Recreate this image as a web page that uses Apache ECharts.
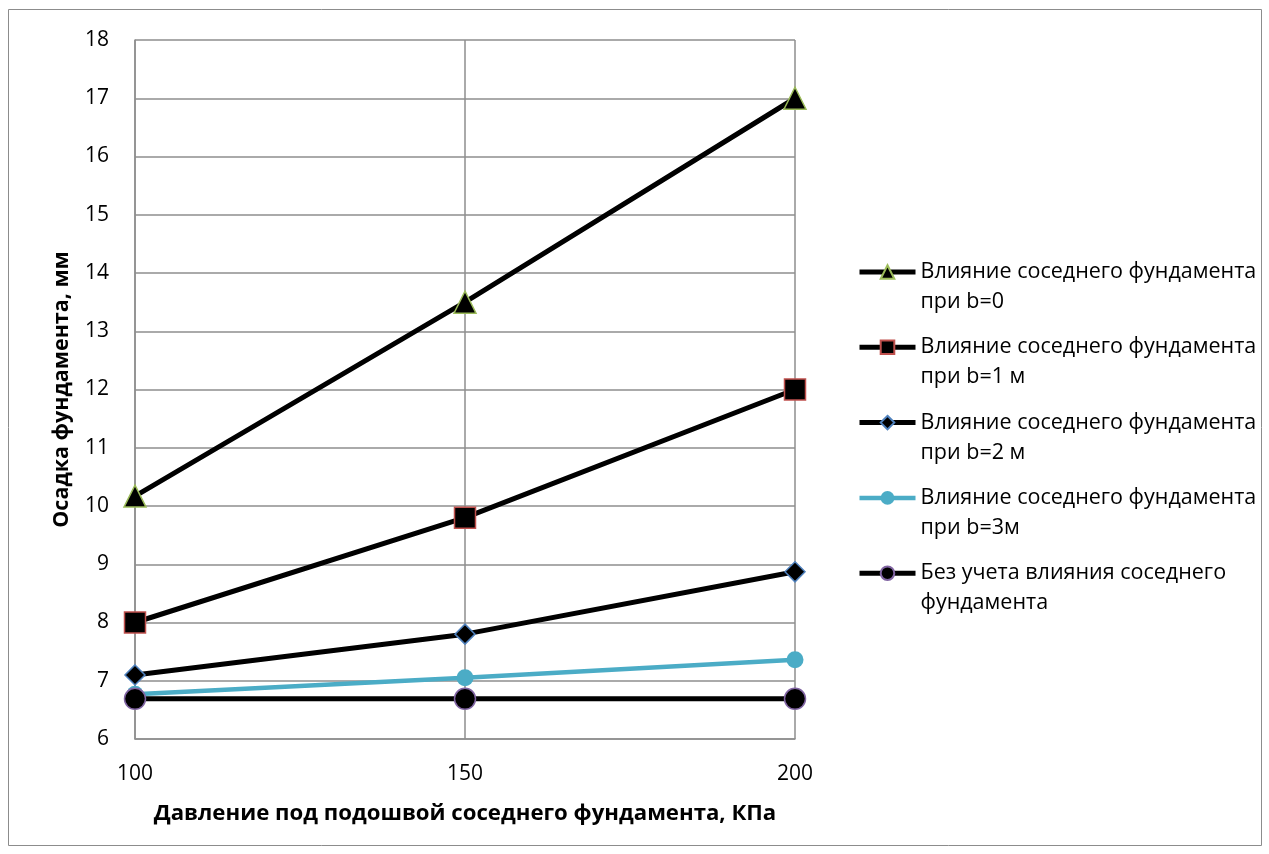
<!DOCTYPE html>
<html>
<head>
<meta charset="utf-8">
<style>
  html, body { margin: 0; padding: 0; background: #fff; }
  #chart { width: 1269px; height: 854px; }
</style>
<script src="https://cdn.jsdelivr.net/npm/echarts@6/dist/echarts.min.js"></script>
</head>
<body>
<div id="chart"></div>
<script>
// Pressure under the neighbouring footing, kPa
const pressures = [100, 150, 200];
// Settlement of the footing, mm
const settleB0 = [10.17, 13.5, 17.0];
const settleB1 = [8.0, 9.8, 12.0];
const settleB2 = [7.1, 7.8, 8.87];
const settleB3 = [6.77, 7.05, 7.36];
const settleNone = [6.69, 6.69, 6.69];

const seriesNames = [
  'Влияние соседнего фундамента\nпри b=0',
  'Влияние соседнего фундамента\nпри b=1 м',
  'Влияние соседнего фундамента\nпри b=2 м',
  'Влияние соседнего фундамента\nпри b=3м',
  'Без учета влияния соседнего\nфундамента'
];
const xTitle = 'Давление под подошвой соседнего фундамента, КПа';
const yTitle = 'Осадка фундамента, мм';

const FONT = '"Open Sans", "Noto Sans", sans-serif';
const GRID_GREY = '#8e8e8e';

function pairs(vals) {
  return pressures.map((p, i) => [p, vals[i]]);
}

function lineSeries(name, vals, opts) {
  return {
    name: name,
    type: 'line',
    data: pairs(vals),
    symbol: opts.symbol,
    symbolSize: opts.size,
    lineStyle: { color: opts.lineColor, width: opts.lineWidth },
    itemStyle: { color: opts.fill, borderColor: opts.border, borderWidth: opts.borderWidth },
    emphasis: { disabled: true },
    animation: false,
    z: opts.z
  };
}

const styles = [
  { symbol: 'triangle', size: 22, lineColor: '#000', lineWidth: 5, fill: '#000', border: '#9bbb59', borderWidth: 1.5, z: 2 },
  { symbol: 'rect', size: 21, lineColor: '#000', lineWidth: 5, fill: '#000', border: '#c0504d', borderWidth: 1.5, z: 3 },
  { symbol: 'diamond', size: 20, lineColor: '#000', lineWidth: 5, fill: '#000', border: '#4f81bd', borderWidth: 1.5, z: 4 },
  { symbol: 'circle', size: 17, lineColor: '#4bacc6', lineWidth: 4.5, fill: '#4bacc6', border: '#4bacc6', borderWidth: 0, z: 5 },
  { symbol: 'circle', size: 21, lineColor: '#000', lineWidth: 5, fill: '#000', border: '#8064a2', borderWidth: 1.5, z: 6 }
];
const seriesValues = [settleB0, settleB1, settleB2, settleB3, settleNone];

const chart = echarts.init(document.getElementById('chart'), null, { renderer: 'canvas' });

chart.setOption({
  backgroundColor: '#fff',
  textStyle: { fontFamily: FONT },
  graphic: [{
    type: 'rect',
    shape: { x: 8.5, y: 9.5, width: 1253, height: 836 },
    style: { fill: 'none', stroke: '#8c8c8c', lineWidth: 1 },
    silent: true
  }],
  grid: { left: 135, right: 474, top: 40, bottom: 115 },
  xAxis: {
    type: 'value',
    min: 100, max: 200, interval: 50,
    name: xTitle,
    nameLocation: 'middle',
    nameGap: 64,
    nameMoveOverlap: false,
    nameTextStyle: { fontFamily: FONT, fontSize: 22.2, fontWeight: 'bold', color: '#000' },
    axisLine: { show: true, lineStyle: { color: GRID_GREY, width: 1.5 } },
    axisTick: { show: false },
    axisLabel: { fontFamily: FONT, fontSize: 21, color: '#000', margin: 25 },
    splitLine: { show: true, lineStyle: { color: GRID_GREY, width: 1.5 } }
  },
  yAxis: {
    type: 'value',
    min: 6, max: 18, interval: 1,
    name: yTitle,
    nameLocation: 'middle',
    nameGap: 62,
    nameMoveOverlap: false,
    nameTextStyle: { fontFamily: FONT, fontSize: 21.5, fontWeight: 'bold', color: '#000' },
    axisLine: { show: true, lineStyle: { color: GRID_GREY, width: 1.5 } },
    axisTick: { show: false },
    axisLabel: { fontFamily: FONT, fontSize: 21, color: '#000', margin: 26 },
    splitLine: { show: true, lineStyle: { color: GRID_GREY, width: 1.5 } }
  },
  legend: {
    orient: 'vertical',
    left: 857,
    top: 227,
    padding: 0,
    itemWidth: 56,
    itemHeight: 17,
    itemGap: -14.7,
    selectedMode: false,
    // a leading blank line puts the icon level with the first text line
    formatter: name => '\n' + name,
    textStyle: { fontFamily: FONT, fontSize: 21.5, color: '#000', lineHeight: 30 },
    data: seriesNames.map((n, i) => ({
      name: n,
      lineStyle: { width: styles[i].lineWidth }
    }))
  },
  series: seriesNames.map((n, i) => lineSeries(n, seriesValues[i], styles[i]))
});
</script>
</body>
</html>
